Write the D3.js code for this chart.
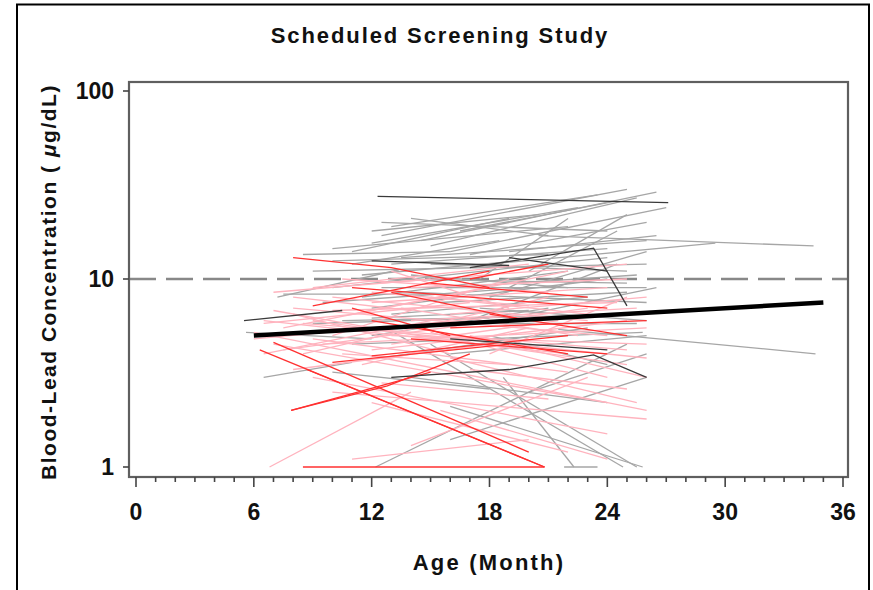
<!DOCTYPE html>
<html lang="en">
  <head>
    <meta charset="UTF-8" />
    <title>Scheduled Screening Study</title>
    <script src="https://d3js.org/d3.v7.min.js"></script>
    <style>
      body {
        margin: 0;
        background-color: white;
      }
      text {
        font-family: "Liberation Sans", Arial, sans-serif;
        font-weight: bold;
        fill: #111;
      }
      .kid {
        fill: none;
        stroke-width: 1.3px;
      }
    </style>
  </head>
  <body>
    <svg id="chart" width="873" height="590"></svg>
    <script>
      // each child: [age in months, blood lead in ug/dL]
      const grayKids = [
        [[12.5, 17], [25, 30]],
        [[13, 19], [23.5, 28]],
        [[15, 15], [25.5, 27]],
        [[16, 14], [27, 24]],
        [[12, 18], [20.5, 22]],
        [[14, 21], [21, 17]],
        [[12.5, 20], [24, 18]],
        [[10, 14.5], [22, 19]],
        [[11, 14], [19, 21]],
        [[20.5, 17], [34.5, 15]],
        [[18, 12], [29.5, 15.5]],
        [[9, 11], [26, 12]],
        [[7.2, 8], [13.4, 11.2]],
        [[7.5, 8.3], [16, 8.3]],
        [[5.6, 5.2], [12, 4.8]],
        [[6.5, 3.0], [11, 3.6]],
        [[21.5, 5.4], [34.6, 4.0]],
        [[16, 1.4], [26, 3.0]],
        [[18.7, 3.0], [22.3, 1.0]],
        [[16, 2.1], [25.8, 1.0]],
        [[12.2, 1.0], [25, 4.5]],
        [[21.8, 1.0], [23.5, 1.0]],
        [[10, 9], [24, 13]],
        [[11.5, 8], [22, 11]],
        [[13, 10], [25, 9.5]],
        [[12, 7], [24, 10]],
        [[9.5, 7.5], [20, 9]],
        [[14, 8.5], [26, 7.5]],
        [[13, 6.5], [23, 8]],
        [[15, 12], [25, 11]],
        [[17, 6], [24.5, 12]],
        [[10.5, 6], [26, 6.5]],
        [[12, 5], [21, 7]],
        [[11, 4.5], [25.8, 5.2]],
        [[16, 4], [26, 5]],
        [[12.5, 3.8], [23, 5.5]],
        [[14, 3], [24, 2.2]],
        [[9, 5.8], [18, 6.2]],
        [[18, 8], [26, 14]],
        [[19, 9], [24.5, 18]],
        [[17.5, 10], [22, 21]],
        [[20, 11], [25, 22]],
        [[11, 12], [18.5, 16]],
        [[13.5, 13], [26, 16]],
        [[15, 4.5], [25.5, 1.0]],
        [[13, 5.3], [24.8, 1.0]],
        [[8.5, 13.5], [16, 14]],
        [[20, 6.5], [26.5, 9]],
        [[14.5, 16], [26.5, 29]],
        [[16.5, 18], [24.5, 26]],
        [[12, 15.5], [22.5, 24]],
        [[17, 13.5], [26, 20]],
        [[13, 12], [24, 14.5]],
        [[10, 12.5], [21, 13.5]],
        [[19, 14], [26.5, 17]],
        [[12.5, 9], [26, 9]],
        [[15.5, 7.5], [25, 8.5]],
        [[11.5, 10.5], [19.5, 12.5]],
        [[14, 10.5], [22, 9]],
        [[16, 9], [25.5, 10.5]],
        [[12, 6.2], [20, 6.8]],
        [[17.5, 7], [26, 6]],
        [[14.5, 5.8], [25.5, 5.8]],
        [[10, 3.2], [18, 2.6]],
        [[20, 2.5], [26, 4]],
        [[18, 5], [24, 3.5]],
      ];

      const pinkKids = [
        [[6, 5.2], [26, 2.0]],
        [[7, 4.5], [24, 2.2]],
        [[6.5, 6], [22, 4]],
        [[8, 7], [24, 5]],
        [[9, 6], [25, 3.5]],
        [[10, 8], [23, 6]],
        [[6, 4.8], [20, 6.5]],
        [[7.5, 5.5], [18, 9]],
        [[8.5, 4], [21, 8]],
        [[10, 5], [19, 10]],
        [[11, 6.5], [22, 11]],
        [[12, 7.5], [24, 9]],
        [[9, 9], [20, 12]],
        [[7, 8.5], [15, 10]],
        [[12, 4.2], [25, 6]],
        [[13, 5], [26, 4.5]],
        [[14, 6], [25.5, 7]],
        [[11.5, 3.5], [20, 5.5]],
        [[8, 3.3], [18, 4.5]],
        [[6.8, 1.0], [14, 2.5]],
        [[10, 2.5], [26, 1.8]],
        [[9, 3.0], [24, 1.5]],
        [[12, 2.2], [22, 1.2]],
        [[14, 1.3], [23, 3]],
        [[16, 3.8], [25.5, 2.2]],
        [[15, 8], [23, 6.5]],
        [[17, 5], [26, 3]],
        [[10.5, 10], [21, 8.5]],
        [[12.5, 9.5], [25, 12]],
        [[8, 6.5], [16, 4]],
        [[13, 11], [19, 7]],
        [[18, 4], [25, 8]],
        [[11, 1.1], [20, 1.4]],
        [[15.5, 2.0], [24, 1.1]],
        [[7, 6.8], [12, 5.5]],
        [[9.5, 4.5], [26, 5.5]],
        [[6.5, 5.8], [17, 7.5]],
        [[13.5, 7], [22.5, 5]],
        [[7.5, 4.2], [23, 7]],
        [[8.5, 5.8], [25, 4.2]],
        [[9, 4.8], [22, 3.2]],
        [[10, 6.8], [24.5, 7.5]],
        [[11, 5.5], [26, 3.8]],
        [[12, 8.5], [20, 7.2]],
        [[13, 4.5], [21.5, 6]],
        [[6.5, 4], [15, 6]],
        [[14, 9], [25, 10]],
        [[15, 5.2], [24, 3]],
        [[16, 6.5], [26, 8]],
        [[10.5, 4], [19, 3.5]],
        [[8, 8], [14, 6.8]],
        [[17, 3.3], [25, 2.6]],
        [[12.5, 2.8], [21, 2.3]],
      ];

      const redKids = [
        [[8, 13], [13, 11.5], [18, 9]],
        [[7.9, 2.0], [12.8, 2.7], [17, 4]],
        [[7.9, 2.0], [15, 3.2]],
        [[6.3, 4.2], [20.8, 1.0]],
        [[8.7, 3.3], [20.8, 1.0]],
        [[8.5, 1.0], [20.8, 1.0]],
        [[7, 4.6], [20, 1.2]],
        [[11, 9], [24, 7]],
        [[12, 6], [22, 4]],
        [[14, 4.8], [24, 4.0]],
        [[9, 7.2], [18, 11]],
        [[13, 8.5], [20, 6]],
        [[15, 9.5], [23, 8]],
        [[16, 5.5], [26, 6]],
        [[10, 3.6], [19, 4.5]],
        [[18, 6.5], [25, 5]],
        [[12, 3.9], [22, 5]],
        [[17, 10], [21, 12]],
        [[11, 7], [16, 5]],
      ];

      const darkKids = [
        [[12.3, 27.5], [27.1, 25.5]],
        [[5.5, 6.0], [10.5, 6.8]],
        [[13, 3.0], [19, 3.3], [23.3, 3.95], [26, 3.0]],
        [[17, 11.5], [23.3, 14.6], [25, 7.2]],
        [[12, 12.5], [19, 11.8]],
        [[16, 4.8], [24, 4.2]],
        [[19, 13], [24, 11]],
      ];

      // average trend and the 10 ug/dL reference
      const trendLine = [[6, 5], [35, 7.5]];
      const refLevel = 10;

      const xTicks = [0, 6, 12, 18, 24, 30, 36];
      const xMinor = d3.range(0, 37, 1);
      const yTicks = [1, 10, 100];

      const svg = d3.select("#chart");

      // plot frame (pixels)
      const frame = { left: 129, right: 848, top: 82, bottom: 477 };

      const x = d3.scaleLinear().domain([0, 36]).range([136, 843]);
      const y = d3.scaleLog().domain([1, 100]).range([467, 91]);

      // outer border of the figure
      svg
        .append("rect")
        .attr("x", 17)
        .attr("y", 4.5)
        .attr("width", 852)
        .attr("height", 620)
        .attr("fill", "none")
        .attr("stroke", "#000")
        .attr("stroke-width", 2);

      const line = d3
        .line()
        .x((d) => x(d[0]))
        .y((d) => y(d[1]));

      const groups = [
        { kids: grayKids, color: "#a6a6a6" },
        { kids: pinkKids, color: "#ffb3be" },
        { kids: redKids, color: "#ff3030" },
        { kids: darkKids, color: "#3a3a3a" },
      ];

      const plot = svg.append("g");

      // reference line at 10
      plot
        .append("line")
        .attr("x1", frame.left)
        .attr("x2", frame.right)
        .attr("y1", y(refLevel))
        .attr("y2", y(refLevel))
        .attr("stroke", "#888")
        .attr("stroke-width", 2.5)
        .attr("stroke-dasharray", "27 10");

      groups.forEach((g) => {
        plot
          .selectAll(null)
          .data(g.kids)
          .enter()
          .append("path")
          .attr("class", "kid")
          .attr("stroke", g.color)
          .attr("d", line);
      });

      plot
        .append("path")
        .datum(trendLine)
        .attr("fill", "none")
        .attr("stroke", "#000")
        .attr("stroke-width", 4.5)
        .attr("d", line);

      // frame
      svg
        .append("rect")
        .attr("x", frame.left)
        .attr("y", frame.top)
        .attr("width", frame.right - frame.left)
        .attr("height", frame.bottom - frame.top)
        .attr("fill", "none")
        .attr("stroke", "#5f5f5f")
        .attr("stroke-width", 2.2);

      // x ticks
      svg
        .selectAll(".xminor")
        .data(xMinor)
        .enter()
        .append("line")
        .attr("x1", (d) => x(d))
        .attr("x2", (d) => x(d))
        .attr("y1", frame.bottom)
        .attr("y2", (d) => (d % 6 === 0 ? frame.bottom + 10 : frame.bottom + 5))
        .attr("stroke", "#444")
        .attr("stroke-width", 1.6);

      svg
        .selectAll(".xlab")
        .data(xTicks)
        .enter()
        .append("text")
        .attr("x", (d) => x(d))
        .attr("y", 520)
        .attr("text-anchor", "middle")
        .style("font-size", "23px")
        .text((d) => d);

      // y ticks
      svg
        .selectAll(".ytick")
        .data(yTicks)
        .enter()
        .append("line")
        .attr("x1", frame.left - 6)
        .attr("x2", frame.left)
        .attr("y1", (d) => y(d))
        .attr("y2", (d) => y(d))
        .attr("stroke", "#444")
        .attr("stroke-width", 1.6);

      svg
        .selectAll(".ylab")
        .data(yTicks)
        .enter()
        .append("text")
        .attr("x", 114)
        .attr("y", (d) => y(d) + 8)
        .attr("text-anchor", "end")
        .style("font-size", "23px")
        .text((d) => d);

      // titles
      svg
        .append("text")
        .attr("x", 440)
        .attr("y", 43)
        .attr("text-anchor", "middle")
        .style("font-size", "22px")
        .style("letter-spacing", "1.9px")
        .text("Scheduled Screening Study");

      svg
        .append("text")
        .attr("x", 489)
        .attr("y", 570)
        .attr("text-anchor", "middle")
        .style("font-size", "22px")
        .style("letter-spacing", "2.2px")
        .text("Age (Month)");

      const yTitle = svg
        .append("text")
        .attr("transform", "translate(56,282) rotate(-90)")
        .attr("text-anchor", "middle")
        .style("font-size", "21px")
        .style("letter-spacing", "1.5px");
      yTitle.append("tspan").text("Blood-Lead Concentration ( ");
      yTitle.append("tspan").style("font-style", "italic").text("μ");
      yTitle.append("tspan").text("g/dL)");
    </script>
  </body>
</html>
